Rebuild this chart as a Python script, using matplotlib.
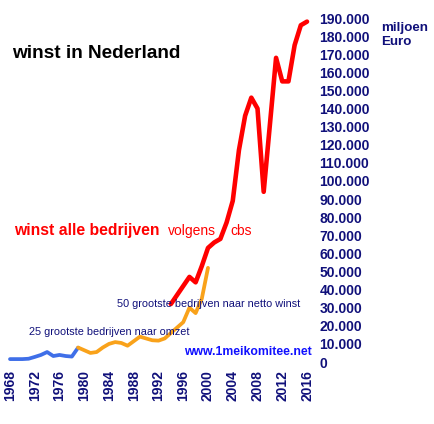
import matplotlib
matplotlib.use("Agg")
import matplotlib.pyplot as plt
from matplotlib.ticker import FuncFormatter

# winst, miljoen euro
omzet25_years = list(range(1968, 1980))
omzet25_values = [1600, 1600, 1600, 1800, 2800, 3900, 5500, 3300, 3900, 3300, 3000, 7900]

netto50_years = list(range(1979, 2001))
netto50_values = [8000, 6500, 5000, 5500, 8000, 10000, 11000, 10500, 9000, 11500, 14000,
                  13000, 12000, 11800, 13000, 16000, 19000, 22000, 30000, 27000, 35000, 52000]

cbs_years = list(range(1994, 2017))
cbs_values = [32000, 37000, 42000, 47000, 44000, 53000, 63000, 66000, 68000, 77000, 89000,
              117000, 136000, 146000, 140000, 94000, 131000, 168000, 155000, 155000, 175000,
              186000, 188000]

year_ticks = list(range(1968, 2017, 4))
value_ticks = list(range(0, 190001, 10000))

NAVY = "#10107a"
plt.rcParams["font.family"] = ["Liberation Sans", "DejaVu Sans"]

W, H = 434, 424
fig = plt.figure(figsize=(W / 100, H / 100), dpi=100)
x0, x1 = 10, 307     # pixel x of 1968 and 2016
y0, y1 = 362, 18     # pixel y (from top) of 0 and 190.000
ax = fig.add_axes([x0 / W, (H - y0) / H, (x1 - x0) / W, (y0 - y1) / H])
ax.set_xlim(1968, 2016)
ax.set_ylim(0, 190000)

ax.plot(omzet25_years, omzet25_values, color="#3f6fe8", lw=2.7, clip_on=False,
        solid_capstyle="round")
ax.plot(netto50_years, netto50_values, color="#f9a21a", lw=2.7, clip_on=False,
        solid_capstyle="round")
ax.plot(cbs_years, cbs_values, color="#ff0000", lw=3.3, clip_on=False,
        solid_capstyle="round")

for s in ax.spines.values():
    s.set_visible(False)
ax.yaxis.tick_right()
ax.set_yticks(value_ticks)
ax.yaxis.set_major_formatter(FuncFormatter(lambda v, p: f"{int(v):,}".replace(",", ".")))
ax.tick_params(axis="y", length=0, pad=9, labelsize=10, labelcolor=NAVY)
for lab in ax.get_yticklabels():
    lab.set_fontweight("bold")
    lab.set_horizontalalignment("left")
ax.set_xticks(year_ticks)
ax.tick_params(axis="x", length=0, pad=6, labelsize=10, labelcolor=NAVY, labelrotation=90)
for lab in ax.get_xticklabels():
    lab.set_fontweight("bold")

def px(x, y):
    return x / W, 1 - y / H

fig.text(*px(12, 53), "winst in Nederland", fontsize=13.7, fontweight="bold",
         color="black", va="center")
fig.text(*px(14, 230), "winst alle bedrijven", fontsize=11.3, fontweight="bold",
         color="#ff0000", va="center")
fig.text(*px(168, 231), "volgens", fontsize=10, color="#ff0000", va="center")
fig.text(*px(230, 231), "cbs", fontsize=10, color="#ff0000", va="center")
fig.text(*px(117, 304), "50 grootste bedrijven naar netto winst", fontsize=7.8,
         color=NAVY, va="center")
fig.text(*px(29, 332), "25 grootste bedrijven naar omzet", fontsize=7.8,
         color=NAVY, va="center")
fig.text(*px(184, 352), "www.1meikomitee.net", fontsize=8.8, fontweight="bold",
         color="#1010ff", va="center")
fig.text(*px(381, 35), "miljoen\nEuro", fontsize=9.6, fontweight="bold",
         color=NAVY, va="center", linespacing=1.15)

fig.savefig("out.png", dpi=100)
